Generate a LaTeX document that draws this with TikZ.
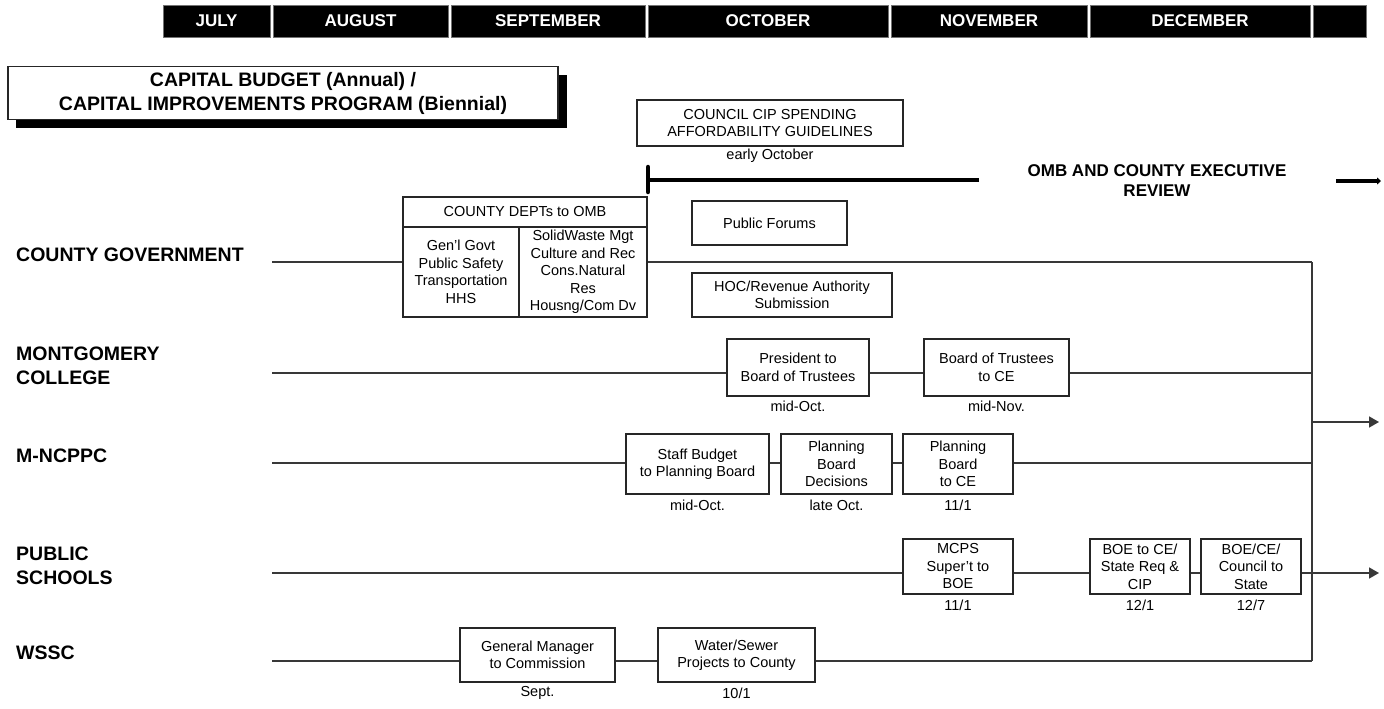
\documentclass[tikz,border=0pt]{standalone}
\usepackage{fontspec}
\setmainfont{Liberation Sans}
\usetikzlibrary{arrows.meta}
\newcommand\fBx{\fontsize{14.5}{17.5}\selectfont}
\newcommand\fLb{\fontsize{19.5}{24}\selectfont\bfseries}
\newcommand\fMo{\fontsize{17}{20}\selectfont\bfseries}
\begin{document}
\begin{tikzpicture}[x=1pt,y=-1pt,
  bx/.style={draw=black!85, line width=1.8pt, fill=white, inner sep=0pt, align=center, font=\fBx},
  dt/.style={font=\fBx, inner sep=0pt},
  lab/.style={font=\fLb, anchor=west, align=left, inner sep=0pt},
  mo/.style={fill=black, text=white, font=\fMo, inner sep=0pt, draw=black!55, line width=0.6pt, minimum height=32},
  conn/.style={draw=black!78, line width=1.7pt},
  tip/.style={-{Triangle[length=10pt,width=11pt]}},
  heavy/.style={line width=4.5pt, draw=black}
]
\useasboundingbox (0,0) rectangle (1384,709);
\fill[white] (0,0) rectangle (1384,709);

% month bar
\node[mo, minimum width=107] (jul) at (216.5,21) {JULY};
\node[mo, minimum width=175] (aug) at (360.5,21) {AUGUST};
\node[mo, minimum width=194] (sep) at (548,21) {SEPTEMBER};
\node[mo, minimum width=240] (oct) at (768,21) {OCTOBER};
\node[mo, minimum width=196] (nov) at (989,21) {NOVEMBER};
\node[mo, minimum width=220] (dec) at (1200,21) {DECEMBER};
\node[mo, minimum width=53] (blank) at (1339.5,21) {};

% title with shadow
\fill[black] (16,75) rectangle (567,128);
\node[draw=black!85, line width=1.5pt, fill=white, minimum width=550, minimum height=53,
      align=center, font=\fLb, inner sep=0pt] (title) at (283,93)
      {CAPITAL BUDGET (Annual) /\\CAPITAL IMPROVEMENTS PROGRAM (Biennial)};

% row labels
\node[lab] (lcg) at (16,255) {COUNTY GOVERNMENT};
\node[lab] (lmc) at (16,366) {MONTGOMERY\\COLLEGE};
\node[lab] (lmn) at (16,456) {M-NCPPC};
\node[lab] (lps) at (16,565.5) {PUBLIC\\SCHOOLS};
\node[lab] (lws) at (16,653) {WSSC};

% council guidelines
\node[bx, minimum width=266, minimum height=46] (council) at (770,123)
  {COUNCIL CIP SPENDING\\AFFORDABILITY GUIDELINES};
\node[dt] (councild) at (770,156) {early October};

% OMB review
\node[font=\fMo, align=center, inner sep=0pt] (omb) at (1157,181)
  {OMB AND COUNTY EXECUTIVE\\REVIEW};
\coordinate (ombA) at (979,180);
\coordinate (ombT) at (648,180);
\draw[heavy] (ombA) -- (ombT);
\draw[heavy, line cap=round] (ombT) ++(0,-13) -- ++(0,25);
\coordinate (ombR1) at (1336,181);
\coordinate (ombR2) at (1381,181);
\draw[heavy, -{Triangle[length=4pt,width=7pt]}] (ombR1) -- (ombR2);

% county departments
\node[bx, minimum width=244, minimum height=30] (deptH) at (525,212) {COUNTY DEPTs to OMB};
\node[bx, minimum width=116, minimum height=90] (deptL) at (461,272)
  {Gen'l Govt\\Public Safety\\Transportation\\HHS};
\node[bx, minimum width=128, minimum height=90] (deptR) at (583,272)
  {SolidWaste Mgt\\Culture and Rec\\Cons.Natural\\Res\\Housng/Com Dv};
\node[bx, minimum width=155, minimum height=44] (forums) at (769.5,223) {Public Forums};
\node[bx, minimum width=200, minimum height=44] (hoc) at (792,295)
  {HOC/Revenue Authority\\Submission};

% montgomery college
\node[bx, minimum width=142, minimum height=57] (pres) at (798,367.5) {President to\\Board of Trustees};
\node[bx, minimum width=145, minimum height=57] (bot) at (996.5,367.5) {Board of Trustees\\to CE};
\node[dt] (presd) at (798,406) {mid-Oct.};
\node[dt] (botd) at (996.5,406) {mid-Nov.};

% M-NCPPC
\node[bx, minimum width=143, minimum height=60] (staff) at (697.5,464) {Staff Budget\\to Planning Board};
\node[bx, minimum width=111, minimum height=60] (pbd) at (836.5,464) {Planning\\Board\\Decisions};
\node[bx, minimum width=110, minimum height=60] (pbce) at (958,464) {Planning\\Board\\to CE};
\node[dt] (staffd) at (697.5,505) {mid-Oct.};
\node[dt] (pbdd) at (836.5,505) {late Oct.};
\node[dt] (pbced) at (958,505) {11/1};

% public schools
\node[bx, minimum width=110, minimum height=55] (mcps) at (958,566.5) {MCPS\\Super't to\\BOE};
\node[bx, minimum width=100, minimum height=55] (boece) at (1140,566.5) {BOE to CE/\\State Req \&\\CIP};
\node[bx, minimum width=100, minimum height=55] (boecc) at (1251,566.5) {BOE/CE/\\Council to\\State};
\node[dt] (mcpsd) at (958,605) {11/1};
\node[dt] (boeced) at (1140,605) {12/1};
\node[dt] (boeccd) at (1251,605) {12/7};

% WSSC
\node[bx, minimum width=155, minimum height=54] (gm) at (537.5,655) {General Manager\\to Commission};
\node[bx, minimum width=157, minimum height=54] (ws) at (736.5,655) {Water/Sewer\\Projects to County};
\node[dt] (gmd) at (537.5,693) {Sept.};
\node[dt] (wsd) at (736.5,693) {10/1};

% line start points and bus
\coordinate (cgS) at (272,262);
\coordinate (mcS) at (272,373);
\coordinate (mnS) at (272,463);
\coordinate (psS) at (272,573);
\coordinate (wsS) at (272,661);
\coordinate (busT) at (1312,262);
\coordinate (busB) at (1312,661);
\coordinate (busO) at (1312,422);
\coordinate (busE) at (1379,422);
\coordinate (psE) at (1379,573);

% connectors
\draw[conn] (cgS) -- (cgS -| deptL.west);
\draw[conn] (cgS -| deptR.east) -- (busT);
\draw[conn] (busT) -- (busB);
\draw[conn, tip] (busO) -- (busE);

\draw[conn] (mcS) -- (mcS -| pres.west);
\draw[conn] (mcS -| pres.east) -- (mcS -| bot.west);
\draw[conn] (mcS -| bot.east) -- (mcS -| busT);

\draw[conn] (mnS) -- (mnS -| staff.west);
\draw[conn] (mnS -| staff.east) -- (mnS -| pbd.west);
\draw[conn] (mnS -| pbd.east) -- (mnS -| pbce.west);
\draw[conn] (mnS -| pbce.east) -- (mnS -| busT);

\draw[conn] (psS) -- (psS -| mcps.west);
\draw[conn] (psS -| mcps.east) -- (psS -| boece.west);
\draw[conn] (psS -| boece.east) -- (psS -| boecc.west);
\draw[conn, tip] (psS -| boecc.east) -- (psE);

\draw[conn] (wsS) -- (wsS -| gm.west);
\draw[conn] (wsS -| gm.east) -- (wsS -| ws.west);
\draw[conn] (wsS -| ws.east) -- (busB);
\end{tikzpicture}
\end{document}
